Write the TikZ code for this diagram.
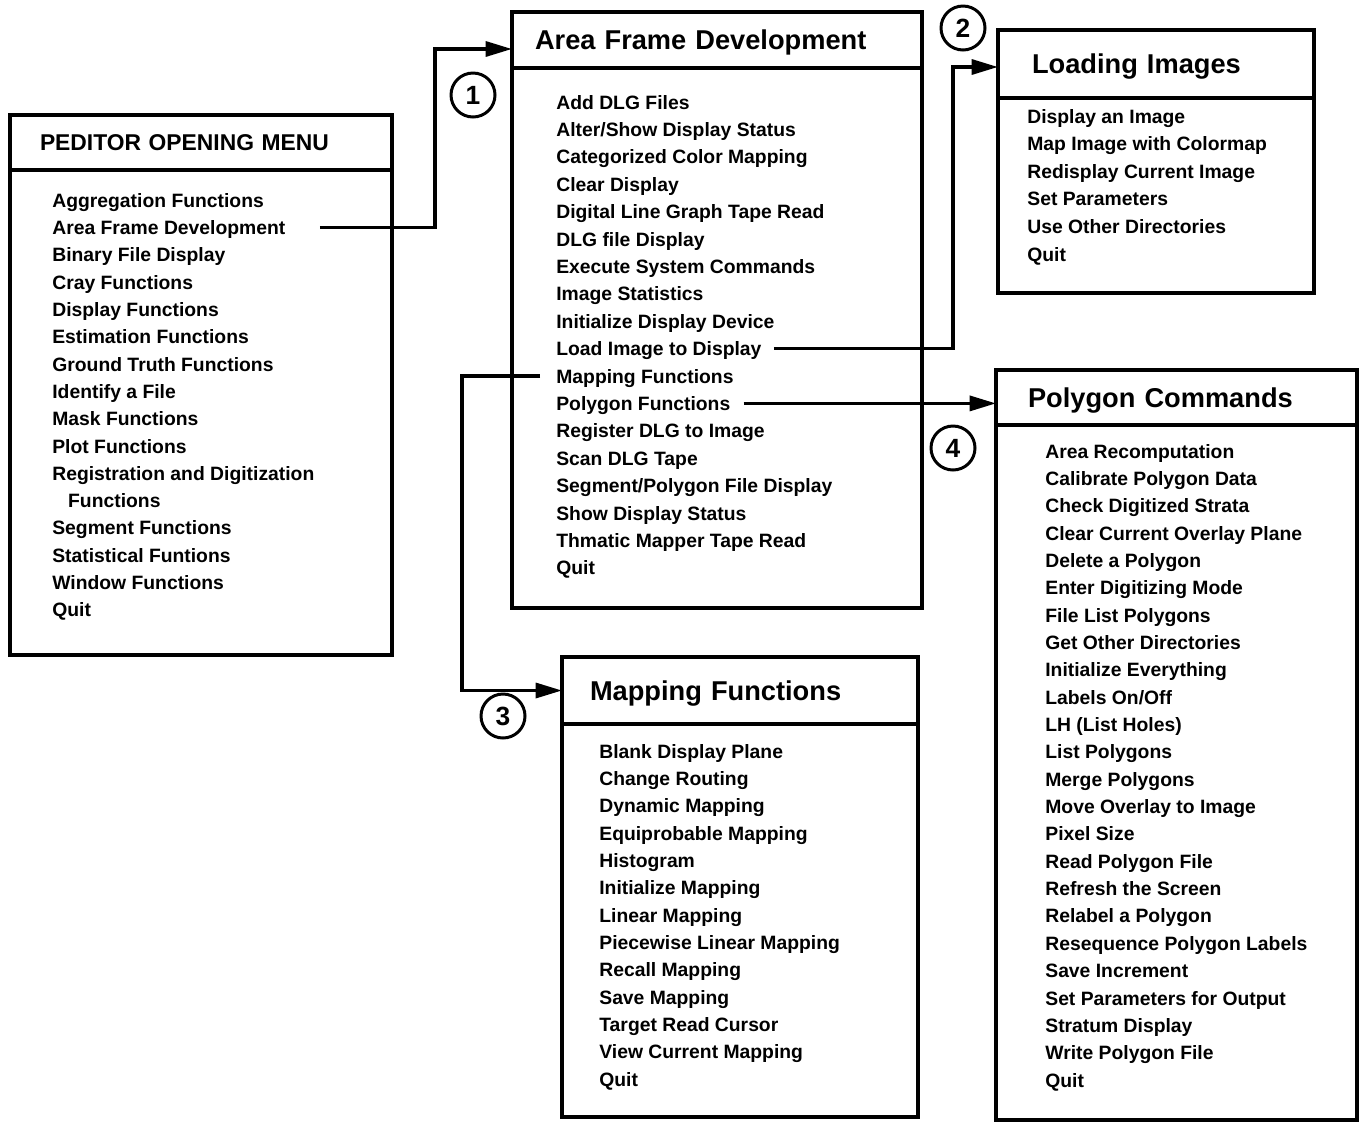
\documentclass[tikz,border=0pt]{standalone}
\usepackage{fontspec}
\setmainfont{Liberation Sans}
\usetikzlibrary{arrows.meta,calc,positioning}
\def\pxu{0.02cm}
\tikzset{
  menubox/.style={draw,line width=2.3pt,anchor=north west,inner ysep=0pt,outer sep=0pt},
  menutitle/.style={menubox,align=left,font=\bfseries\fontsize{15.5}{18}\selectfont,text height=11pt,text depth=0pt},
  item/.style={anchor=west,inner sep=0pt,font=\bfseries\fontsize{11}{13}\selectfont,text height=8pt,text depth=0pt},
  link/.style={line width=2pt,-{Triangle[length=15pt,width=8.5pt]}},
  marker/.style={circle,draw,line width=1.7pt,minimum size=44*\pxu,inner sep=0pt,font=\bfseries\fontsize{15}{18}\selectfont},
}

\begin{document}
\begin{tikzpicture}[x=0.02cm,y=-0.02cm]
	\useasboundingbox (0,0) rectangle (1359,1126);

	% opening menu
	\node[menutitle,font=\bfseries\fontsize{13}{16}\selectfont,text height=9.3pt,text width=322*\pxu,inner xsep=30*\pxu,minimum height=55*\pxu] (pmtitle) at (10,115) {PEDITOR OPENING MENU};
	\node[menubox,minimum width=382*\pxu,minimum height=485*\pxu] (pmbody) at (pmtitle.south west) {};
	\foreach \t [count=\i] in {Aggregation Functions,Area Frame Development,Binary File Display,Cray Functions,Display Functions,Estimation Functions,Ground Truth Functions,Identify a File,Mask Functions,Plot Functions,Registration and Digitization,\hspace*{9pt}Functions,Segment Functions,Statistical Funtions,Window Functions,Quit}
		\node[item] (pm-\i) at (52,{200+27.33*(\i-1)}) {\t};

	% area frame development
	\node[menutitle,text width=364*\pxu,inner xsep=23*\pxu,minimum height=56*\pxu] (aftitle) at (512,12) {Area Frame Development};
	\node[menubox,minimum width=410*\pxu,minimum height=540*\pxu] (afbody) at (aftitle.south west) {};
	\foreach \t [count=\i] in {Add DLG Files,Alter/Show Display Status,Categorized Color Mapping,Clear Display,Digital Line Graph Tape Read,DLG file Display,Execute System Commands,Image Statistics,Initialize Display Device,Load Image to Display,Mapping Functions,Polygon Functions,Register DLG to Image,Scan DLG Tape,Segment/Polygon File Display,Show Display Status,Thmatic Mapper Tape Read,Quit}
		\node[item] (af-\i) at (556,{102+27.4*(\i-1)}) {\t};

	% loading images
	\node[menutitle,text width=248*\pxu,inner xsep=34*\pxu,minimum height=68*\pxu] (lititle) at (998,30) {Loading Images};
	\node[menubox,minimum width=316*\pxu,minimum height=195*\pxu] (libody) at (lititle.south west) {};
	\foreach \t [count=\i] in {Display an Image,Map Image with Colormap,Redisplay Current Image,Set Parameters,Use Other Directories,Quit}
		\node[item] (li-\i) at (1027,{116+27.6*(\i-1)}) {\t};

	% polygon commands
	\node[menutitle,text width=297*\pxu,inner xsep=32*\pxu,minimum height=55*\pxu] (pctitle) at (996,370) {Polygon Commands};
	\node[menubox,minimum width=361*\pxu,minimum height=695*\pxu] (pcbody) at (pctitle.south west) {};
	\foreach \t [count=\i] in {Area Recomputation,Calibrate Polygon Data,Check Digitized Strata,Clear Current Overlay Plane,Delete a Polygon,Enter Digitizing Mode,File List Polygons,Get Other Directories,Initialize Everything,Labels On/Off,LH (List Holes),List Polygons,Merge Polygons,Move Overlay to Image,Pixel Size,Read Polygon File,Refresh the Screen,Relabel a Polygon,Resequence Polygon Labels,Save Increment,Set Parameters for Output,Stratum Display,Write Polygon File,Quit}
		\node[item] (pc-\i) at (1045,{451+27.35*(\i-1)}) {\t};

	% mapping functions
	\node[menutitle,text width=300*\pxu,inner xsep=28*\pxu,minimum height=67*\pxu] (mftitle) at (562,657) {Mapping Functions};
	\node[menubox,minimum width=356*\pxu,minimum height=393*\pxu] (mfbody) at (mftitle.south west) {};
	\foreach \t [count=\i] in {Blank Display Plane,Change Routing,Dynamic Mapping,Equiprobable Mapping,Histogram,Initialize Mapping,Linear Mapping,Piecewise Linear Mapping,Recall Mapping,Save Mapping,Target Read Cursor,View Current Mapping,Quit}
		\node[item] (mf-\i) at (599,{751+27.33*(\i-1)}) {\t};

	% links between menus
	\coordinate (k1) at (435,130);
	\coordinate (k2) at (953,200);
	\coordinate (k3) at (462,500);
	\draw[link] ([xshift=34*\pxu]pm-2.east) -| (k1) |- ($(aftitle.west)+(0,9)$);
	\draw[link] ([xshift=12*\pxu]af-10.east) -| (k2) |- ($(lititle.west)+(0,3)$);
	\draw[link] ([xshift=-16*\pxu]af-11.west) -| (k3) |- (mftitle.west);
	\draw[link] ([xshift=13*\pxu]af-12.east) -- (af-12.east -| pctitle.west);

	\node[marker] (m1) at (473,95) {1};
	\node[marker] (m2) at (963,28) {2};
	\node[marker] (m3) at (503,716) {3};
	\node[marker] (m4) at (953,448) {4};
\end{tikzpicture}
\end{document}
